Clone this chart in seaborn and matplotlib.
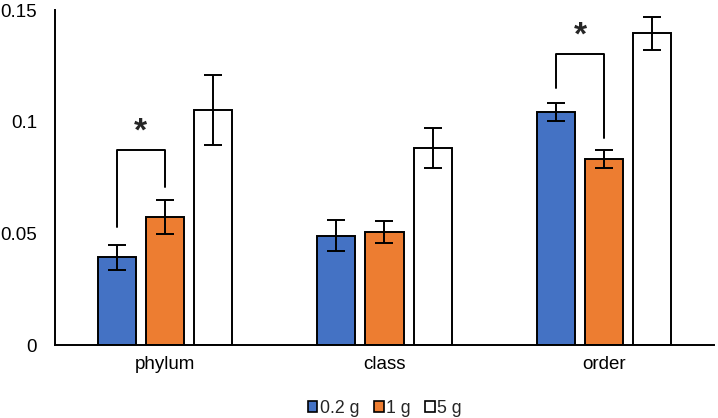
import pandas as pd
import numpy as np
from matplotlib import pyplot as plt
from matplotlib.patches import Patch
import seaborn as sns

levels = ['phylum', 'class', 'order']
doses = ['0.2 g', '1 g', '5 g']
means = {
    '0.2 g': [0.0393, 0.0490, 0.1045],
    '1 g': [0.0572, 0.0507, 0.0832],
    '5 g': [0.1052, 0.0882, 0.1396],
}
errors = {
    '0.2 g': [0.0056, 0.0069, 0.0040],
    '1 g': [0.0077, 0.0048, 0.0040],
    '5 g': [0.0155, 0.0090, 0.0073],
}
# significance brackets: (level index, bar a, bar b, top y, leg a bottom, leg b bottom)
brackets = [
    (0, '0.2 g', '1 g', 0.0873, 0.0530, 0.0706),
    (2, '0.2 g', '1 g', 0.1305, 0.1150, 0.0926),
]
colors = ['#4472C4', '#ED7D31', '#FFFFFF']

rows = []
for d in doses:
    for i, lv in enumerate(levels):
        rows.append({'level': lv, 'dose': d, 'value': means[d][i], 'err': errors[d][i]})
df = pd.DataFrame(rows)

sns.set_style('white')
plt.rcParams['font.family'] = ['Liberation Sans', 'DejaVu Sans']
plt.rcParams['font.size'] = 13.5

fig = plt.figure(figsize=(7.18, 4.18), dpi=100)
ax = fig.add_axes([0.0766, 0.1746, 0.9178, 0.8014])

sns.barplot(data=df, x='level', y='value', hue='dose', hue_order=doses,
            palette=colors, saturation=1, width=0.658, gap=0.21, edgecolor='black',
            linewidth=1.4, errorbar=None, legend=False, ax=ax)

centers = {}
for d, cont in zip(doses, ax.containers):
    xs = [p.get_x() + p.get_width() / 2 for p in cont.patches]
    centers[d] = xs
    ax.errorbar(xs, means[d], yerr=errors[d], fmt='none', ecolor='black',
                elinewidth=1.4, capsize=6.5, capthick=1.4, zorder=5)

for lv, a, b, top, ya, yb in brackets:
    xa = centers[a][lv]
    xb = centers[b][lv]
    ax.plot([xa, xa, xb, xb], [ya, top, top, yb], color='black', lw=1.4)
    ax.text((xa + xb) / 2, top + 0.001, '*', ha='center', va='bottom',
            fontsize=24, fontweight='bold')

ax.set_ylim(0, 0.15)
ax.set_xlim(-0.5, 2.5)
ax.set_yticks([0, 0.05, 0.1, 0.15])
ax.set_yticklabels(['0', '0.05', '0.1', '0.15'])
ax.set_xlabel('')
ax.set_ylabel('')
sns.despine(ax=ax, top=True, right=True)
for s in ['left', 'bottom']:
    ax.spines[s].set_color('black')
    ax.spines[s].set_linewidth(1.4)
ax.tick_params(axis='y', length=0, pad=13, labelsize=13.5, colors='black')
ax.tick_params(axis='x', length=0, pad=8, labelsize=13.5, colors='black')

handles = [Patch(facecolor=c, edgecolor='black', linewidth=1.2) for c in colors]
fig.legend(handles, doses, loc='lower center', bbox_to_anchor=(0.536, -0.035), ncol=3,
           frameon=False, handlelength=0.55, handleheight=0.55, handletextpad=0.15,
           columnspacing=0.8, fontsize=12.8)

fig.savefig('out.png', dpi=100)
